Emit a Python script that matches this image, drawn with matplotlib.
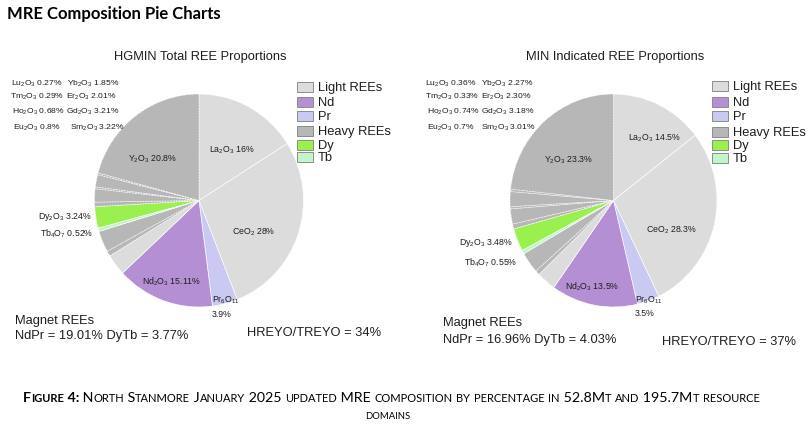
import matplotlib
matplotlib.use("Agg")
import matplotlib.pyplot as plt
from matplotlib.patches import Rectangle

plt.rcParams['font.family'] = ['Liberation Sans', 'DejaVu Sans']
plt.rcParams['mathtext.fontset'] = 'custom'
plt.rcParams['mathtext.rm'] = 'Liberation Sans'
plt.rcParams['mathtext.it'] = 'Liberation Sans:italic'
plt.rcParams['mathtext.bf'] = 'Liberation Sans:bold'
plt.rcParams['mathtext.default'] = 'regular'

# ---------------- data ----------------
oxides = ['La$_2$O$_3$', 'CeO$_2$', 'Pr$_6$O$_{11}$', 'Nd$_2$O$_3$', 'Sm$_2$O$_3$',
          'Eu$_2$O$_3$', 'Gd$_2$O$_3$', 'Tb$_4$O$_7$', 'Dy$_2$O$_3$', 'Ho$_2$O$_3$',
          'Er$_2$O$_3$', 'Tm$_2$O$_3$', 'Yb$_2$O$_3$', 'Lu$_2$O$_3$', 'Y$_2$O$_3$']
groups = ['Light REEs', 'Light REEs', 'Pr', 'Nd', 'Light REEs',
          'Heavy REEs', 'Heavy REEs', 'Tb', 'Dy', 'Heavy REEs',
          'Heavy REEs', 'Heavy REEs', 'Heavy REEs', 'Heavy REEs', 'Heavy REEs']
hgmin_values = [16, 28, 3.9, 15.11, 3.22, 0.8, 3.21, 0.52, 3.24, 0.68, 2.01, 0.29, 1.85, 0.27, 20.8]
hgmin_labels = ['16%', '28%', '3.9%', '15.11%', '3.22%', '0.8%', '3.21%', '0.52%', '3.24%',
                '0.68%', '2.01%', '0.29%', '1.85%', '0.27%', '20.8%']
min_values = [14.5, 28.3, 3.5, 13.5, 3.01, 0.7, 3.18, 0.55, 3.48, 0.74, 2.30, 0.33, 2.27, 0.36, 23.3]
min_labels = ['14.5%', '28.3%', '3.5%', '13.5%', '3.01%', '0.7%', '3.18%', '0.55%', '3.48%',
              '0.74%', '2.30%', '0.33%', '2.27%', '0.36%', '23.3%']
legend_names = ['Light REEs', 'Nd', 'Pr', 'Heavy REEs', 'Dy', 'Tb']
titles = ['HGMIN Total REE Proportions', 'MIN Indicated REE Proportions']
ndpr = ['19.01%', '16.96%']
dytb = ['3.77%', '4.03%']
hreyo = ['34%', '37%']

group_colors = {'Light REEs': '#dcdcdc', 'Nd': '#b48fd4', 'Pr': '#c9c9f1',
                'Heavy REEs': '#b7b7b7', 'Dy': '#9af04e', 'Tb': '#c0f6c9'}

W, H = 810, 435
fig = plt.figure(figsize=(W / 100, H / 100), dpi=100)
fig.patch.set_facecolor('white')


def fx(x):
    return x / W


def fy(y):
    return 1 - y / H


LBL = 6.3
GRID = 6.1
BIG = 9.3
TXT = '#1e1e1e'

layouts = [
    dict(cx=199, cy=201.5, rx=104.5, ry=106.5, tx=200, leg_px=297, leg_tx=318,
         leg_rows=[88, 103, 117, 132, 146, 158],
         grid=[(11, 67, 84, 13, 12), (10, 66, 97, 11, 10), (12, 66, 112, 9, 6), (13, 70, 128, 5, 4)],
         inside={0: (232, 150), 1: (254, 232), 3: (172, 282), 14: (152, 159)},
         side={8: (92, 217), 7: (93, 234)},
         pr=(212, 300, 222, 315),
         magnet=(15, 321, 336), hr=(247, 333)),
    dict(cx=613.5, cy=201.5, rx=103.5, ry=106.5, tx=615, leg_px=712, leg_tx=733,
         leg_rows=[87, 103, 117, 133, 146, 159],
         grid=[(425, 481, 84, 13, 12), (425, 481, 97, 11, 10), (427, 481, 112, 9, 6), (427, 481, 128, 5, 4)],
         inside={0: (654, 138), 1: (671, 230), 3: (592, 287), 14: (568, 160)},
         side={8: (513, 243), 7: (517, 263)},
         pr=(635, 300, 645, 313),
         magnet=(443, 323, 340), hr=(662, 342)),
]
all_values = [hgmin_values, min_values]
all_labels = [hgmin_labels, min_labels]

for k in range(2):
    L = layouts[k]
    vals = all_values[k]
    labs = all_labels[k]
    ax = fig.add_axes([fx(L['cx'] - L['rx']), fy(L['cy'] + L['ry']),
                       2 * L['rx'] / W, 2 * L['ry'] / H])
    wedges, _ = ax.pie(vals, colors=[group_colors[g] for g in groups], startangle=90,
                       counterclock=False, radius=1,
                       wedgeprops=dict(linewidth=0.45, edgecolor='white'))
    for w, g in zip(wedges, groups):
        if g == 'Heavy REEs':
            w.set_linestyle((0, (2.5, 1.5)))
            w.set_edgecolor((1, 1, 1, 0.85))
            w.set_linewidth(0.5)
        w.set_clip_on(False)
    ax.set_aspect('auto')
    ax.set_xlim(-1, 1)
    ax.set_ylim(-1, 1)
    ax.axis('off')

    fig.text(fx(L['tx']), fy(57), titles[k], ha='center', va='center', fontsize=BIG, color=TXT)

    for xl, xr, y, il, ir in L['grid']:
        fig.text(fx(xl), fy(y), f"{oxides[il]} {labs[il]}", ha='left', va='center',
                 fontsize=GRID, color=TXT)
        fig.text(fx(xr), fy(y), f"{oxides[ir]} {labs[ir]}", ha='left', va='center',
                 fontsize=GRID, color=TXT)
    for i, (x, y) in L['inside'].items():
        fig.text(fx(x), fy(y), f"{oxides[i]} {labs[i]}", ha='center', va='center',
                 fontsize=LBL, color=TXT)
    for i, (x, y) in L['side'].items():
        fig.text(fx(x), fy(y), f"{oxides[i]} {labs[i]}", ha='right', va='center',
                 fontsize=LBL, color=TXT)
    px, py, qx, qy = L['pr']
    fig.text(fx(px), fy(py), oxides[2], ha='left', va='center', fontsize=LBL, color=TXT)
    fig.text(fx(qx), fy(qy), labs[2], ha='center', va='center', fontsize=LBL, color=TXT)

    for name, yy in zip(legend_names, L['leg_rows']):
        fig.add_artist(Rectangle((fx(L['leg_px']), fy(yy + 4.75)), 16 / W, 9.5 / H,
                                 transform=fig.transFigure, facecolor=group_colors[name],
                                 edgecolor='#8c8c8c', linewidth=0.7))
        fig.text(fx(L['leg_tx']), fy(yy), name, ha='left', va='center', fontsize=BIG, color=TXT)

    mx, my1, my2 = L['magnet']
    fig.text(fx(mx), fy(my1), 'Magnet REEs', ha='left', va='center', fontsize=BIG, color=TXT)
    fig.text(fx(mx), fy(my2), f'NdPr = {ndpr[k]} DyTb = {dytb[k]}', ha='left', va='center',
             fontsize=BIG, color=TXT)
    hx, hy = L['hr']
    fig.text(fx(hx), fy(hy), f'HREYO/TREYO = {hreyo[k]}', ha='left', va='center',
             fontsize=BIG, color=TXT)

fig.text(fx(7), fy(14), 'MRE Composition Pie Charts', ha='left', va='center',
         fontsize=12.0, fontweight='bold', family=['Lato', 'DejaVu Sans'], color='black')

renderer = fig.canvas.get_renderer()
CAP_FAMILY = ['Lato', 'DejaVu Sans']


def advance(txt, fs, weight):
    a = fig.text(0, 0, '|' + txt + '|', fontsize=fs, fontweight=weight, family=CAP_FAMILY)
    b = fig.text(0, 0, '||', fontsize=fs, fontweight=weight, family=CAP_FAMILY)
    w = a.get_window_extent(renderer).width - b.get_window_extent(renderer).width
    a.remove()
    b.remove()
    return w


def smallcaps(segments, xc, y, target_w, big=9.0, ratio=0.78):
    runs = []
    for s, weight in segments:
        cur, typ = '', None
        for ch in s:
            t = 'small' if ch.islower() else 'big'
            if typ is None:
                typ = t
            if t != typ:
                runs.append((cur, typ, weight))
                cur = ''
                typ = t
            cur += ch
        if cur:
            runs.append((cur, typ, weight))

    def widths_for(size):
        return [advance(txt.upper(), size if typ == 'big' else size * ratio, weight)
                for txt, typ, weight in runs]

    ws = widths_for(big)
    if target_w:
        big = big * target_w / sum(ws)
        ws = widths_for(big)
    x = xc - sum(ws) / 2
    for (txt, typ, weight), w in zip(runs, ws):
        fs = big if typ == 'big' else big * ratio
        fig.text(x / W, fy(y), txt.upper(), fontsize=fs, fontweight=weight,
                 family=CAP_FAMILY, va='baseline', ha='left', color='black')
        x += w


smallcaps([('Figure 4:', 'bold'),
           (' North Stanmore January 2025 updated MRE composition by percentage in 52.8Mt and 195.7Mt resource', 'normal')],
          391, 402, 742)
smallcaps([('domains', 'normal')], 388, 419, None, big=8.8)

fig.savefig('out.png', dpi=100, facecolor='white')
